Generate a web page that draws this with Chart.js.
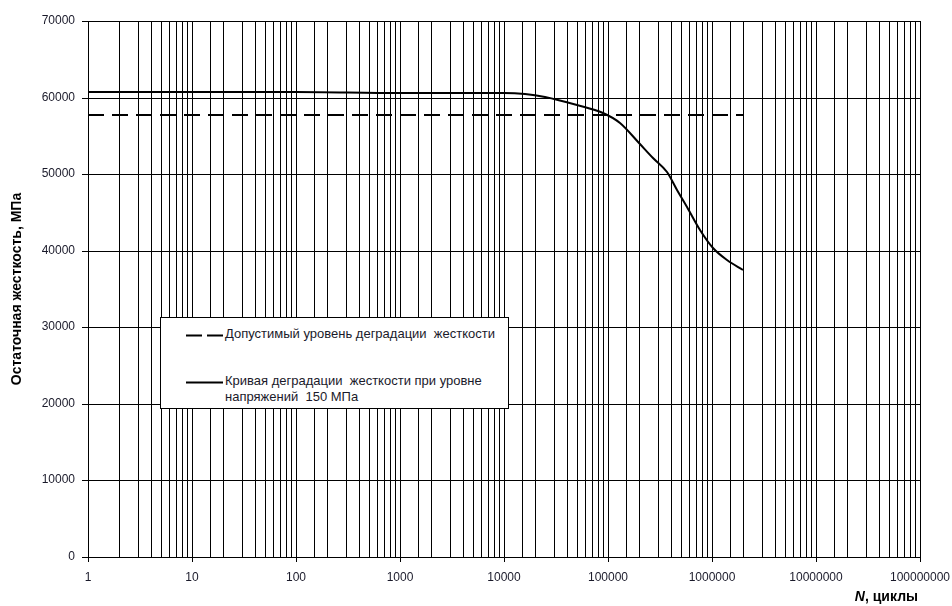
<!DOCTYPE html>
<html>
<head>
<meta charset="utf-8">
<script src="https://cdn.jsdelivr.net/npm/chart.js@4"></script>
<style>
  body { margin: 0; background: #fff; }
  #wrap { position: relative; width: 952px; height: 606px; font-family: Arial, "Liberation Sans", sans-serif; }
  #legendBox {
    position: absolute; left: 160px; top: 317px; width: 349px; height: 92px;
    border: 1px solid #000; background: #fff; box-sizing: border-box;
    font-size: 13px; color: #1a1a2a;
  }
  .item { position: absolute; left: 25px; display: flex; align-items: flex-start; }
  .item svg { flex: none; margin-top: 8px; }
  .item span { margin-left: 2px; line-height: 16px; }
  #xTitle {
    position: absolute; right: 34px; top: 588px; font-size: 14px; font-weight: bold; color: #000;
  }
</style>
</head>
<body>
<div id="wrap">
  <canvas id="stiffChart" width="952" height="606"></canvas>
  <div id="legendBox">
    <div class="item" style="top:8px">
      <svg width="37" height="3"><line x1="0" y1="1.5" x2="37" y2="1.5" stroke="#000" stroke-width="2" stroke-dasharray="16,5"/></svg>
      <span>Допустимый уровень деградации&nbsp; жесткости</span>
    </div>
    <div class="item" style="top:55px">
      <svg width="37" height="3"><line x1="0" y1="1.5" x2="37" y2="1.5" stroke="#000" stroke-width="2"/></svg>
      <span>Кривая деградации&nbsp; жесткости при уровне<br>напряжений&nbsp; 150 МПа</span>
    </div>
  </div>
  <div id="xTitle"><i>N</i>, циклы</div>
</div>
<script>
// degradation curve (cycles vs residual stiffness, MPa)
const cycles = [1, 10, 100, 1000, 3000, 10000, 16000, 25000, 50000, 90000, 130000, 200000, 273000, 366000, 457000, 571000, 767000, 1030000, 1380000, 2000000];
const stiffness = [60700, 60700, 60700, 60650, 60600, 60550, 60500, 60050, 59050, 57950, 56700, 54100, 52100, 50300, 47900, 45700, 42700, 40300, 38800, 37500];

// allowed degradation level
const limitCycles = [1, 2000000];
const limitStiffness = [57700, 57700];

const yTicks = [0, 10000, 20000, 30000, 40000, 50000, 60000, 70000];

const toPoints = (xs, ys) => xs.map((x, i) => ({ x: x, y: ys[i] }));

const isDecade = (v) => {
  const l = Math.log10(v);
  return Math.abs(l - Math.round(l)) < 1e-9;
};

const ctx = document.getElementById('stiffChart').getContext('2d');
new Chart(ctx, {
  type: 'line',
  data: {
    datasets: [
      {
        label: 'Допустимый уровень деградации жесткости',
        data: toPoints(limitCycles, limitStiffness),
        borderColor: '#000',
        borderWidth: 2,
        borderDash: [16, 8],
        pointRadius: 0,
        fill: false
      },
      {
        label: 'Кривая деградации жесткости при уровне напряжений 150 МПа',
        data: toPoints(cycles, stiffness),
        borderColor: '#000',
        borderWidth: 2,
        pointRadius: 0,
        cubicInterpolationMode: 'monotone',
        fill: false
      }
    ]
  },
  options: {
    responsive: false,
    animation: false,
    layout: { padding: { top: 21, right: 32, left: 0, bottom: 0 } },
    plugins: {
      legend: { display: false },
      tooltip: { enabled: false }
    },
    scales: {
      x: {
        type: 'logarithmic',
        min: 1,
        max: 100000000,
        alignToPixels: true,
        afterFit: (scale) => {
          scale.height = 49;
          scale.paddingRight = 0;
          scale.paddingLeft = 0;
        },
        border: { color: '#000', width: 1 },
        grid: {
          color: '#000',
          lineWidth: 1,
          tickLength: 5,
          tickColor: (c) => (c.tick && isDecade(c.tick.value) ? '#000' : 'rgba(0,0,0,0)')
        },
        ticks: {
          autoSkip: false,
          maxRotation: 0,
          padding: 8,
          color: '#1a1a2a',
          font: { family: 'Arial, "Liberation Sans", sans-serif', size: 12 },
          callback: (value) => (isDecade(value) ? String(value) : '')
        }
      },
      y: {
        min: 0,
        max: 70000,
        alignToPixels: true,
        afterFit: (scale) => { scale.width = 88; },
        afterBuildTicks: (scale) => { scale.ticks = yTicks.map(v => ({ value: v })); },
        border: { color: '#000', width: 1 },
        grid: { color: '#000', lineWidth: 1, tickLength: 6, tickColor: '#000' },
        ticks: {
          padding: 7,
          color: '#1a1a2a',
          font: { family: 'Arial, "Liberation Sans", sans-serif', size: 12 },
          callback: (value) => String(value)
        },
        title: {
          display: true,
          text: 'Остаточная жесткость, МПа',
          color: '#000',
          font: { family: 'Arial, "Liberation Sans", sans-serif', size: 14, weight: 'bold' },
          padding: { top: 9, bottom: 0 }
        }
      }
    }
  }
});
</script>
</body>
</html>
